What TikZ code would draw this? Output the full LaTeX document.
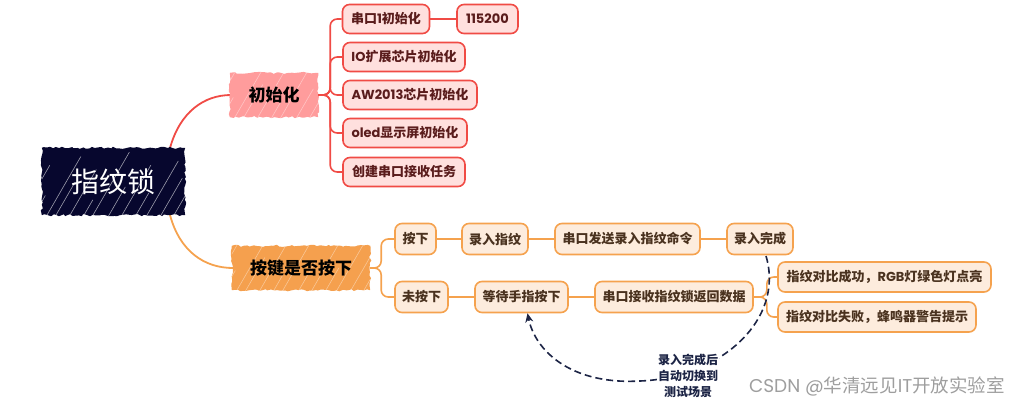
\documentclass[tikz,border=0pt]{standalone}
\usepackage{fontspec}
\setmainfont{Noto Sans CJK SC}
\newfontfamily\lat{Poppins}
\usetikzlibrary{arrows.meta,decorations.pathmorphing}
\definecolor{rootfill}{HTML}{07072E}
\definecolor{redline}{HTML}{F04B45}
\definecolor{pinkone}{HTML}{FF9C9C}
\definecolor{pinkfill}{HTML}{FFE0DE}
\definecolor{maroon}{HTML}{5A1C1C}
\definecolor{orangeline}{HTML}{F5A24E}
\definecolor{orangeone}{HTML}{F5A04E}
\definecolor{orangefill}{HTML}{FDECDD}
\definecolor{browntext}{HTML}{4A321F}
\definecolor{dashcol}{HTML}{1C2445}
\tikzset{
  rootbox/.style={text=white, font=\fontsize{28}{31}\selectfont,
    minimum width=143pt, minimum height=67pt, inner sep=0pt},
  lvlone/.style={inner sep=0pt, minimum height=44pt, font=\bfseries\fontsize{17}{19}\selectfont,
    text=black},
  rough/.style={decorate, decoration={random steps,segment length=3pt,amplitude=1.1pt}},
  redkid/.style={draw=redline, fill=pinkfill, line width=1.6pt, rounded corners=7pt,
    text=maroon, font=\bfseries\fontsize{13}{15}\selectfont, inner sep=0pt,
    minimum height=29pt},
  orkid/.style={draw=orangeline, fill=orangefill, line width=1.6pt, rounded corners=7pt,
    text=browntext, font=\bfseries\fontsize{13}{15}\selectfont, inner sep=0pt,
    minimum height=31pt},
  redcon/.style={draw=redline, line width=1.6pt, rounded corners=7pt},
  orcon/.style={draw=orangeline, line width=1.6pt, rounded corners=7pt},
}
\newcommand{\roughbox}[3]{% node name, fill colour, streak opacity
  \fill[#2, rough] (#1.north west) rectangle (#1.south east);
  \begin{scope}
    \clip (#1.north west) rectangle (#1.south east);
    \foreach \i/\l in {-30/30,-22/60,-9/25,4/70,13/40,27/55,41/20,50/75,66/35,79/60,93/28,104/65,118/45,131/30,145/50}{
      \draw[white, opacity=#3, line width=0.6pt]
        ([xshift=\i pt, yshift=-2pt]#1.south west) -- ++(60:\l pt);
    }
  \end{scope}
}
\begin{document}
\begin{tikzpicture}[x=1pt,y=-1pt]
\useasboundingbox (0,0) rectangle (1032,405);
% connectors first
\coordinate (rtop) at (170,148);
\coordinate (rbot) at (170,215);
\draw[redline, line width=1.8pt] (rtop) .. controls (180,112) and (204,95) .. (231,95);
\draw[orangeline, line width=1.8pt] (rbot) .. controls (180,252) and (205,268) .. (233,268);
% root and level one (shapes)
\path (113.5,181.5) node[rootbox] (root) {\phantom{指纹锁}};
\path (274,95) node[lvlone, minimum width=88pt] (init) {\phantom{初始化}};
\path (301,268) node[lvlone, minimum width=138pt] (key) {\phantom{按键是否按下}};
\roughbox{root}{rootfill}{0.6}
\roughbox{init}{pinkone}{0.4}
\roughbox{key}{orangeone}{0.4}
\node[rootbox] (roottext) at (root.center) {指纹锁};
\node[lvlone] (inittext) at (init.center) {初始化};
\node[lvlone] (keytext) at (key.center) {按键是否按下};
% init children
\node[redkid, minimum width=87pt] (a1) at (386,19) {串口{\lat 1}初始化};
\node[redkid, minimum width=61pt] (a1b) at (487.5,19) {\lat 115200};
\node[redkid, minimum width=122pt] (a2) at (404,57) {{\lat IO}扩展芯片初始化};
\node[redkid, minimum width=134pt] (a3) at (410,95) {{\lat AW2013}芯片初始化};
\node[redkid, minimum width=124pt] (a4) at (405,133) {{\lat oled}显示屏初始化};
\node[redkid, minimum width=122pt] (a5) at (404,172) {创建串口接收任务};
\foreach \k in {a1,a2,a3,a4,a5}{
  \draw[redcon] (init.east) -- ++(12,0) |- (\k.west);
}
\draw[redcon] (a1.east) -- (a1b.west);
% key children
\node[orkid, minimum width=41pt] (b1) at (415.5,239) {按下};
\node[orkid, minimum width=66pt] (b2) at (495,239) {录入指纹};
\node[orkid, minimum width=145pt] (b3) at (627.5,239) {串口发送录入指纹命令};
\node[orkid, minimum width=66pt] (b4) at (760,239) {录入完成};
\node[orkid, minimum width=53pt] (c1) at (421.5,297) {未按下};
\node[orkid, minimum width=93pt] (c2) at (521.5,297) {等待手指按下};
\node[orkid, minimum width=158pt] (c3) at (674,297) {串口接收指纹锁返回数据};
\node[orkid, minimum width=213pt, minimum height=30pt] (d1) at (884.5,277) {指纹对比成功，{\lat RGB}灯绿色灯点亮};
\node[orkid, minimum width=198pt, minimum height=30pt] (d2) at (877,317) {指纹对比失败，蜂鸣器警告提示};
\draw[orcon] (key.east) -- ++(11,0) |- (b1.west);
\draw[orcon] (key.east) -- ++(11,0) |- (c1.west);
\draw[orcon] (b1) -- (b2); \draw[orcon] (b2) -- (b3); \draw[orcon] (b3) -- (b4);
\draw[orcon] (c1) -- (c2); \draw[orcon] (c2) -- (c3);
\draw[orcon] (c3.east) -- ++(13,0) |- (d1.west);
\draw[orcon] (c3.east) -- ++(13,0) |- (d2.west);
% dashed feedback
\coordinate (ds) at (766,256);
\coordinate (dm) at (640,381);
\draw[dashcol, line width=1.6pt, dash pattern=on 7pt off 4pt, -{Stealth[length=9pt,width=8pt]}]
  (ds) .. controls (785,320) and (720,378) .. (dm)
       .. controls (570,385) and (535,350) .. ([xshift=6pt]c2.south);
\node[fill=white, inner sep=1pt, align=center, text=dashcol,
  font=\bfseries\fontsize{12}{16}\selectfont] (lbl) at (688,376) {录入完成后\\自动切换到\\测试场景};
% watermark
\node[text=black!38, font=\fontsize{18.5}{20}\selectfont] (wm) at (877,386) {{\lat CSDN @}华清远见{\lat IT}开放实验室};
\end{tikzpicture}
\end{document}
